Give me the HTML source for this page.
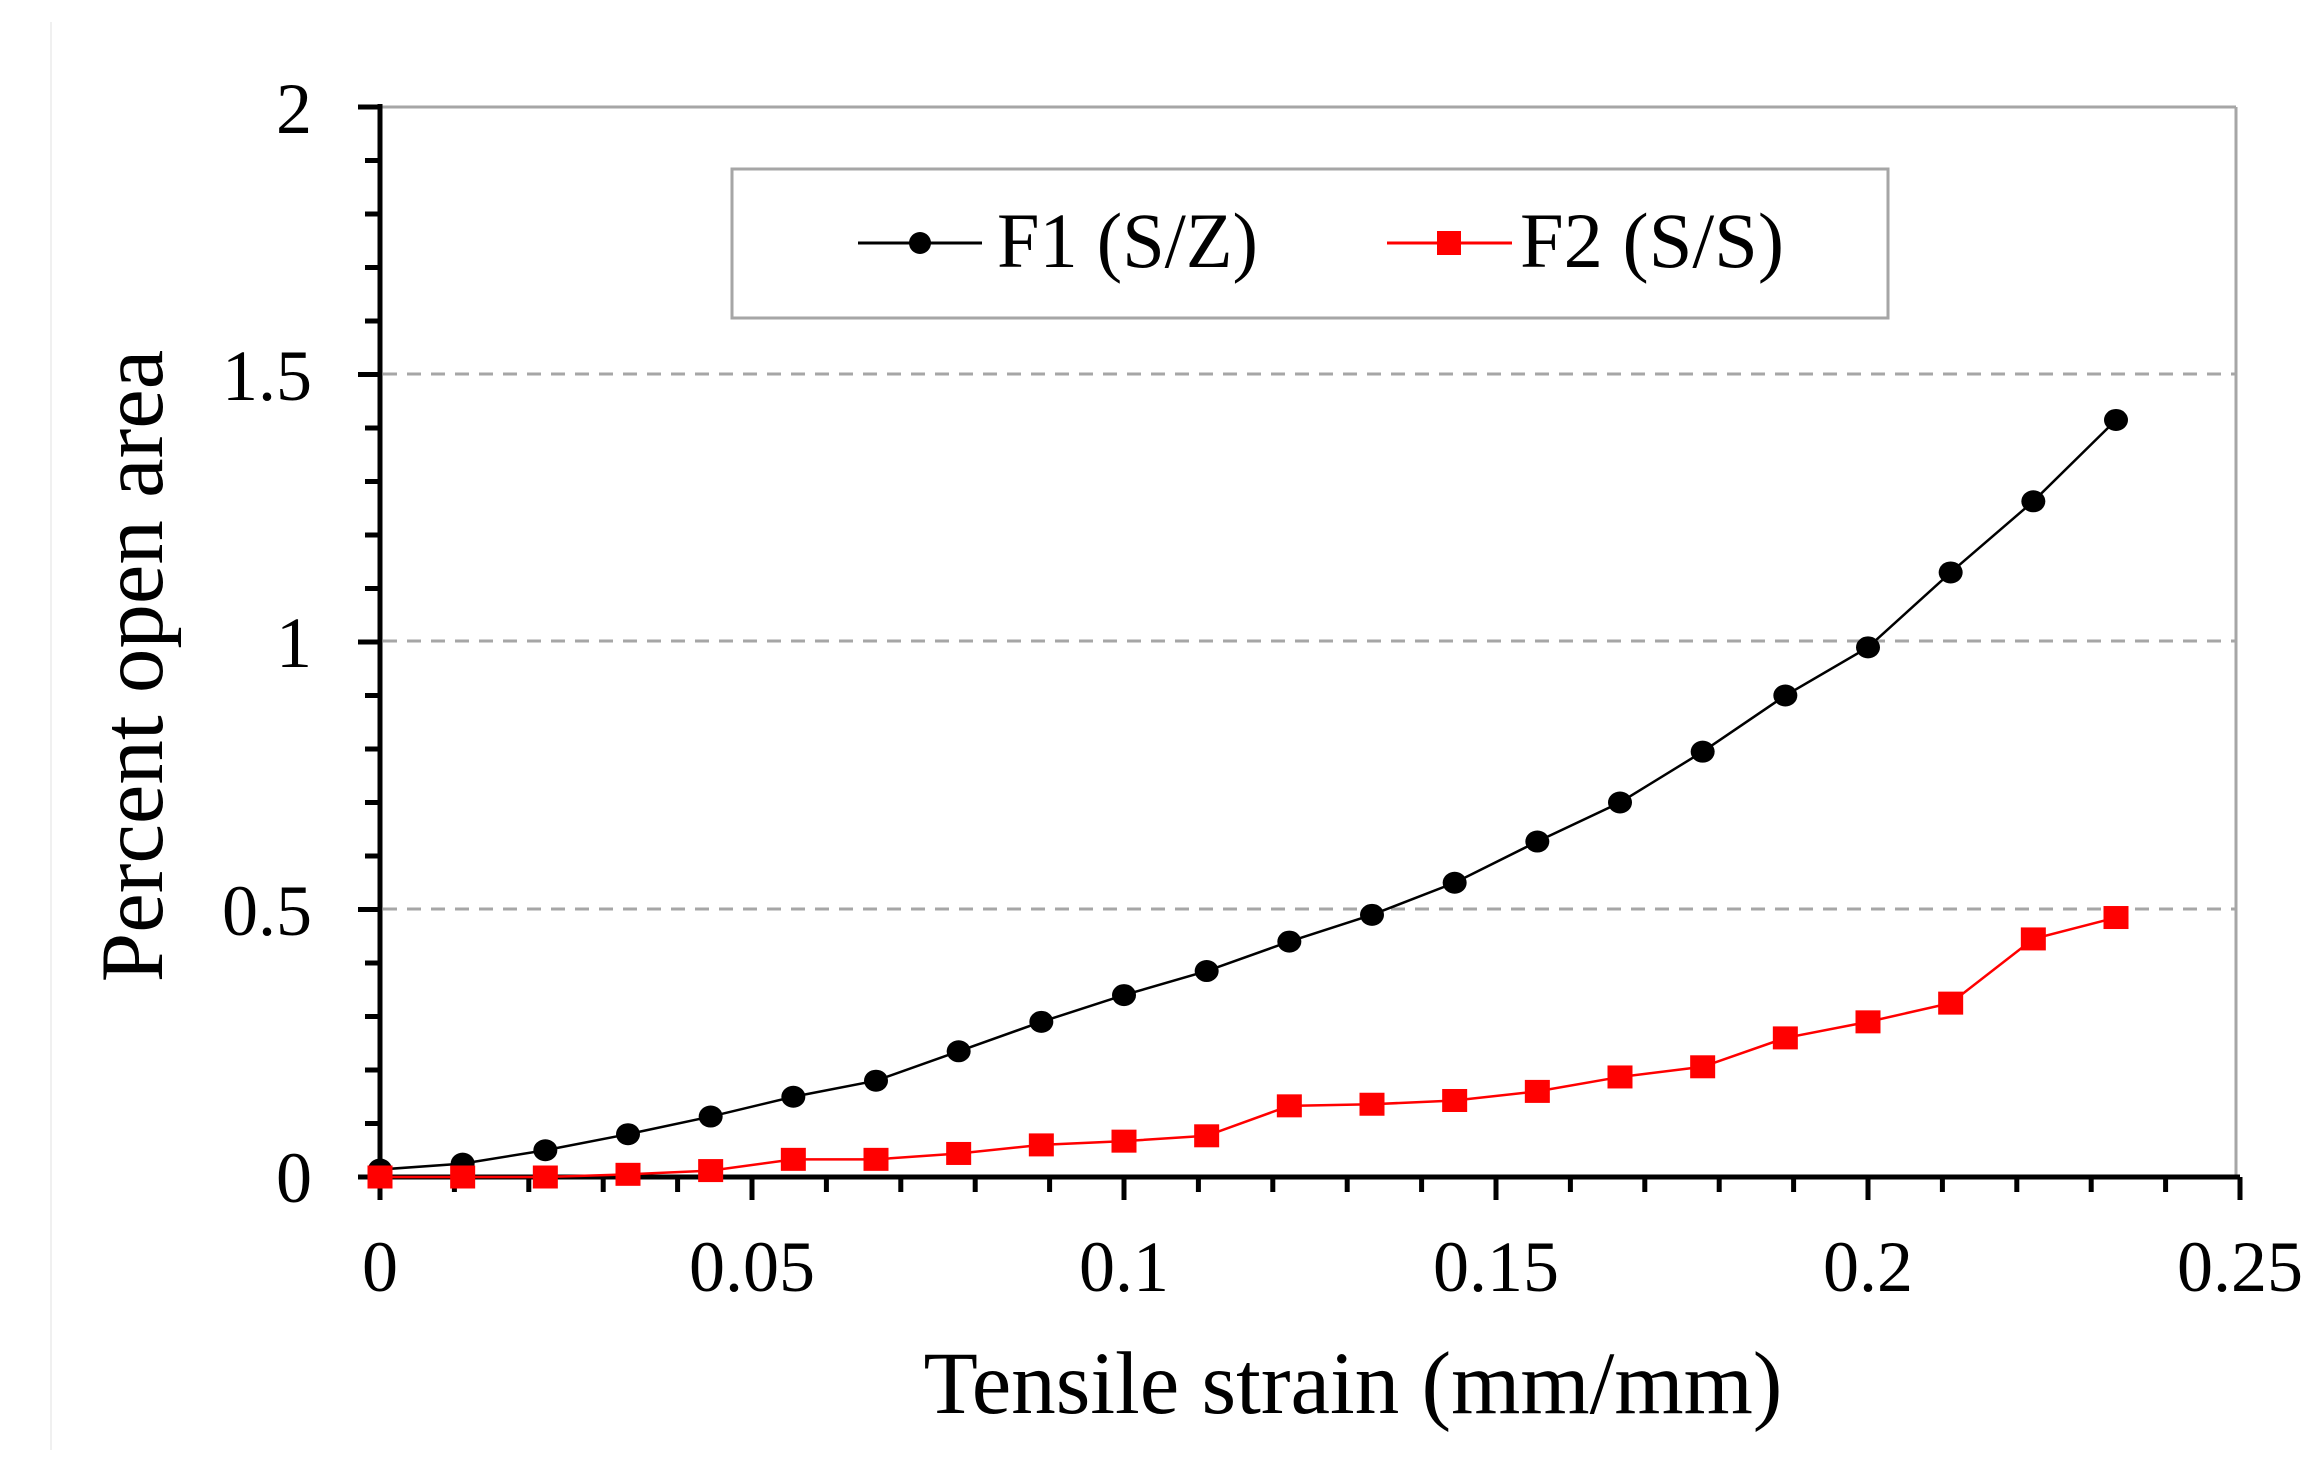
<!DOCTYPE html>
<html><head><meta charset="utf-8"><style>html,body{margin:0;padding:0;background:#fff}svg{display:block}</style></head>
<body>
<svg width="2320" height="1473" viewBox="0 0 2320 1473" xmlns="http://www.w3.org/2000/svg" font-family="'Liberation Serif', serif">
<line x1="51" y1="22" x2="51" y2="1450" stroke="#f0f0f0" stroke-width="2"/>
<!-- grid -->
<g stroke="#a6a6a6" stroke-width="3" stroke-dasharray="14,10">
<line x1="383" y1="374" x2="2236" y2="374"/>
<line x1="383" y1="641" x2="2236" y2="641"/>
<line x1="383" y1="909" x2="2236" y2="909"/>
</g>
<line x1="380" y1="107" x2="2236" y2="107" stroke="#a6a6a6" stroke-width="3"/>
<line x1="2236" y1="107" x2="2236" y2="1177" stroke="#a6a6a6" stroke-width="3"/>
<!-- axes -->
<line x1="380" y1="104" x2="380" y2="1200" stroke="#000" stroke-width="5"/>
<line x1="360" y1="1177" x2="2240" y2="1177" stroke="#000" stroke-width="5"/>
<g stroke="#000" stroke-width="5" id="yt"></g>
<g stroke="#000" stroke-width="5" id="xt"></g>
<g font-size="72" text-anchor="end">
<text x="312" y="133">2</text><text x="312" y="400">1.5</text><text x="312" y="667">1</text><text x="312" y="935">0.5</text><text x="312" y="1202">0</text>
</g>
<g font-size="72" text-anchor="middle">
<text x="380" y="1291">0</text><text x="752" y="1291">0.05</text><text x="1124" y="1291">0.1</text><text x="1496" y="1291">0.15</text><text x="1868" y="1291">0.2</text><text x="2240" y="1291">0.25</text>
</g>
<text x="1353" y="1413" font-size="89" text-anchor="middle">Tensile strain (mm/mm)</text>
<text transform="translate(162,666) rotate(-90)" font-size="89" text-anchor="middle">Percent open area</text>
<!-- legend -->
<rect x="732" y="169" width="1156" height="149" fill="#fff" stroke="#a6a6a6" stroke-width="3"/>
<line x1="858" y1="243" x2="982" y2="243" stroke="#000" stroke-width="3"/>
<ellipse cx="920" cy="243" rx="11" ry="11" fill="#000"/>
<text x="997" y="267" font-size="78" textLength="261" lengthAdjust="spacingAndGlyphs">F1 (S/Z)</text>
<line x1="1387" y1="243" x2="1512" y2="243" stroke="#f00" stroke-width="3"/>
<rect x="1437" y="231" width="24" height="24" fill="#f00"/>
<text x="1520" y="267" font-size="78" textLength="264" lengthAdjust="spacingAndGlyphs">F2 (S/S)</text>
<g id="series"></g>
<script>
var ns="http://www.w3.org/2000/svg";
function el(p,t,a){var e=document.createElementNS(ns,t);for(var k in a)e.setAttribute(k,a[k]);p.appendChild(e);return e;}
var yt=document.getElementById('yt');
for(var i=0;i<=20;i++){var y=1177-i*53.5;el(yt,'line',{x1:(i%5==0?358:365),y1:y,x2:380,y2:y});}
var xt=document.getElementById('xt');
for(var i=0;i<=25;i++){var x=380+i*74.4;el(xt,'line',{x1:x,y1:1177,x2:x,y2:(i%5==0?1200:1192)});}
var f1=[0.014,0.025,0.05,0.08,0.113,0.15,0.18,0.235,0.29,0.34,0.385,0.44,0.49,0.55,0.627,0.70,0.795,0.90,0.99,1.13,1.263,1.415];
var f2=[0,0,0,0.005,0.012,0.033,0.033,0.044,0.06,0.067,0.077,0.133,0.136,0.143,0.16,0.187,0.206,0.26,0.29,0.325,0.445,0.485];
function X(i){return 380+(i/90)*7440;}function Y(v){return 1177-v*535;}
var s=document.getElementById('series');
function pts(a){return a.map(function(v,i){return X(i)+','+Y(v)}).join(' ');}
el(s,'polyline',{points:pts(f1),fill:'none',stroke:'#000','stroke-width':2.5});
el(s,'polyline',{points:pts(f2),fill:'none',stroke:'#f00','stroke-width':2.5});
f1.forEach(function(v,i){el(s,'ellipse',{cx:X(i),cy:Y(v),rx:12,ry:11,fill:'#000'});});
f2.forEach(function(v,i){el(s,'rect',{x:X(i)-12.5,y:Y(v)-11.5,width:25,height:23,fill:'#f00'});});
</script>
</svg>
</body></html>
